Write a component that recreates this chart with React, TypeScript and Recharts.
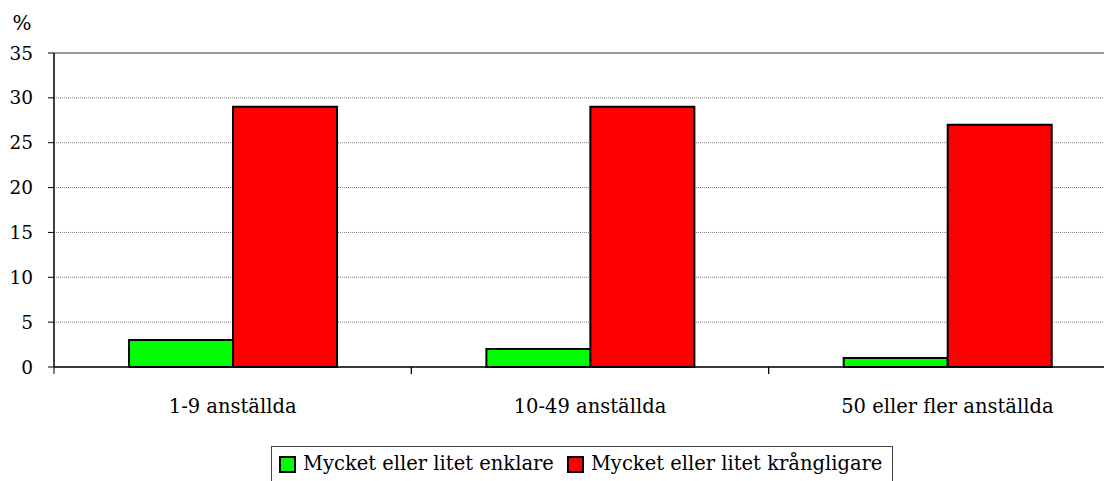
import { Bar, BarChart, CartesianGrid, Legend, ReferenceLine, XAxis, YAxis } from "recharts";

const categories = ["1-9 anställda", "10-49 anställda", "50 eller fler anställda"];
const enklare = [3, 2, 1];
const krangligare = [29, 29, 27];
const yTicks = [0, 5, 10, 15, 20, 25, 30, 35];

const seriesNames = ["Mycket eller litet enklare", "Mycket eller litet krångligare"];
const seriesColors = ["#00ff00", "#ff0000"];

const data = categories.map((name, i) => ({
  name,
  enklare: enklare[i],
  krangligare: krangligare[i],
}));

const CHART_W = 1130;
const CHART_H = 481;
const MARGIN = { top: 53, right: 4, left: 0, bottom: 0 };
const Y_AXIS_W = 54;
const BAND = (CHART_W - MARGIN.left - MARGIN.right - Y_AXIS_W) / categories.length;
// Liberation Serif did not resolve in the sandbox, DejaVu Serif does
const FONT = "'DejaVu Serif', 'Liberation Serif', serif";

// Excel-style category axis: tick marks sit on the band boundaries, not under the label
function CategoryTick(props: any) {
  const { x, y, payload } = props;
  return (
    <g>
      <line x1={x - BAND / 2} y1={y} x2={x - BAND / 2} y2={y + 7} stroke="#000" />
      <line x1={x + BAND / 2} y1={y} x2={x + BAND / 2} y2={y + 7} stroke="#000" />
      <text x={x} y={y + 46} textAnchor="middle" fontSize={19.5} fill="#000" style={{ fontFamily: FONT }}>
        {payload.value}
      </text>
    </g>
  );
}

function LegendBox() {
  return (
    <div
      style={{
        border: "1px solid #444",
        width: 622,
        height: 40,
        display: "flex",
        alignItems: "flex-start",
        paddingLeft: 7,
        boxSizing: "border-box",
        fontFamily: FONT,
        fontSize: 19.5,
        color: "#000",
        background: "#fff",
        whiteSpace: "nowrap",
      }}
    >
      {seriesNames.map((name, i) => (
        <span key={name} style={{ display: "flex", alignItems: "center", marginRight: i === 0 ? 13 : 0, marginTop: 5 }}>
          <span
            style={{
              display: "inline-block",
              width: 13,
              height: 13,
              border: "2px solid #000",
              background: seriesColors[i],
              marginRight: 7,
              marginTop: 1,
            }}
          />
          {name}
        </span>
      ))}
    </div>
  );
}

export default function App() {
  return (
    <div style={{ marginLeft: -8, marginTop: -8, width: 1112, height: CHART_H, overflow: "hidden", position: "relative", background: "#fff", fontFamily: FONT }}>
      <BarChart
        width={CHART_W}
        height={CHART_H}
        data={data}
        margin={MARGIN}
        barCategoryGap="21%"
        barGap={0}
        style={{ fontFamily: FONT }}
      >
        <CartesianGrid vertical={false} stroke="#808080" strokeDasharray="1 1" />
        <XAxis
          dataKey="name"
          height={CHART_H - 367}
          tickLine={false}
          tickSize={0}
          tickMargin={0}
          axisLine={{ stroke: "#000", strokeWidth: 1.5 }}
          tick={<CategoryTick />}
          interval={0}
        />
        <YAxis
          width={Y_AXIS_W}
          domain={[0, 35]}
          ticks={yTicks}
          interval={0}
          tickSize={6}
          tickMargin={15}
          tickLine={{ stroke: "#000" }}
          axisLine={{ stroke: "#000", strokeWidth: 1.5 }}
          tick={{ fontSize: 18.5, fill: "#000", style: { fontFamily: FONT } }}
          label={{
            content: (p: any) => (
              <text x={p.viewBox.x + 22} y={p.viewBox.y - 23} textAnchor="middle" fontSize={20} fill="#000" style={{ fontFamily: FONT }}>
                %
              </text>
            ),
          }}
        />
        <ReferenceLine y={35} stroke="#999" strokeWidth={2} />
        <Legend
          verticalAlign="middle"
          layout="horizontal"
          content={<LegendBox />}
          wrapperStyle={{ position: "absolute", left: 271, top: 446, width: "auto", height: "auto" }}
        />
        <Bar dataKey="enklare" name={seriesNames[0]} fill={seriesColors[0]} stroke="#000" strokeWidth={2} isAnimationActive={false} />
        <Bar dataKey="krangligare" name={seriesNames[1]} fill={seriesColors[1]} stroke="#000" strokeWidth={2} isAnimationActive={false} />
      </BarChart>
    </div>
  );
}
